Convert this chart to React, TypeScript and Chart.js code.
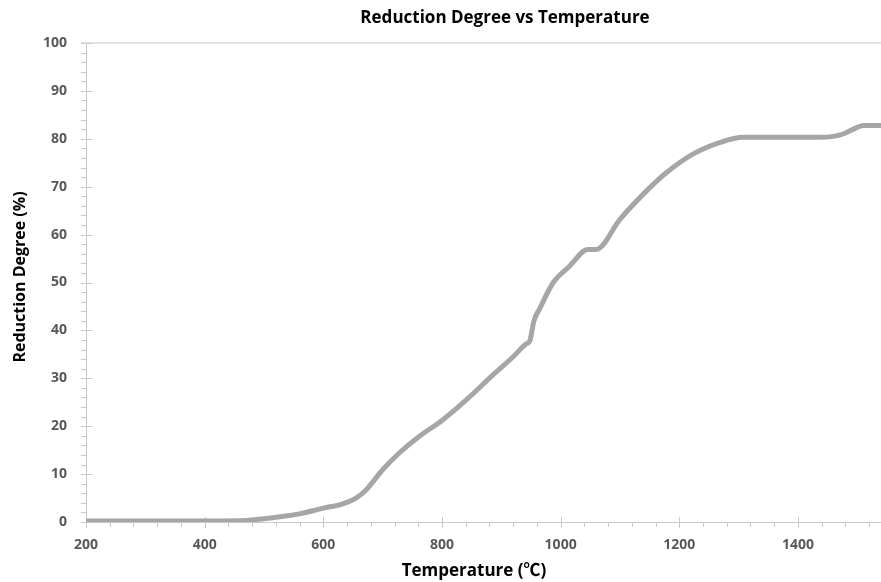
import React, { useEffect, useRef } from 'react';
import { Chart, registerables } from 'chart.js';

Chart.register(...registerables);

// ---- data ----
const TEMPERATURE = [
  200, 300, 400, 470, 500, 520, 560, 600, 630, 655, 672, 700, 728, 762, 800, 841,
  886, 920, 942, 948, 955, 965, 987, 1015, 1046, 1060, 1100, 1139, 1178, 1223,
  1268, 1308, 1437, 1460, 1476, 1500, 1510, 1540,
];
const REDUCTION = [
  0.2, 0.2, 0.2, 0.3, 0.7, 1.0, 1.7, 2.9, 3.7, 5.0, 6.7, 10.9, 14.4, 17.9, 21.2, 25.5,
  30.7, 34.5, 37.2, 37.8, 42.0, 44.6, 49.9, 53.4, 56.9, 56.9, 63.2, 68.4, 72.9, 76.8,
  79.2, 80.3, 80.3, 80.5, 81.0, 82.4, 82.8, 82.8,
];
const X_TICKS = [200, 400, 600, 800, 1000, 1200, 1400];
const Y_TICKS = [0, 10, 20, 30, 40, 50, 60, 70, 80, 90, 100];
const X_RANGE = [200, 1540];
const Y_RANGE = [0, 100];
const X_MINOR_STEP = 40;
const Y_MINOR_STEP = 2;

const TITLE = 'Reduction Degree vs Temperature';
const X_TITLE = 'Temperature (℃)';
const Y_TITLE = 'Reduction Degree (%)';

const FONT = "'Open Sans', 'Noto Sans CJK SC', 'DejaVu Sans', sans-serif";
const AXIS_COLOR = '#c9c9c9';

const decorations = {
  id: 'decorations',
  beforeDatasetsDraw(chart: any) {
    const { ctx, chartArea, scales } = chart;
    const xs = scales.x;
    const ys = scales.y;
    const y0 = chartArea.bottom;
    const x0 = chartArea.left;
    ctx.save();
    // top frame line
    ctx.strokeStyle = '#d9d9d9';
    ctx.lineWidth = 1.5;
    ctx.beginPath();
    ctx.moveTo(x0 - 5, chartArea.top);
    ctx.lineTo(chartArea.right, chartArea.top);
    ctx.stroke();
    ctx.strokeStyle = AXIS_COLOR;
    ctx.lineWidth = 1;
    // x ticks
    for (let v = X_RANGE[0]; v <= X_RANGE[1]; v += X_MINOR_STEP) {
      const px = Math.round(xs.getPixelForValue(v)) + 0.5;
      const major = X_TICKS.includes(v);
      ctx.beginPath();
      ctx.moveTo(px, major ? y0 - 5 : y0);
      ctx.lineTo(px, major ? y0 + 6 : y0 + 5);
      ctx.stroke();
    }
    // y ticks
    for (let v = Y_RANGE[0]; v <= Y_RANGE[1]; v += Y_MINOR_STEP) {
      const py = Math.round(ys.getPixelForValue(v)) + 0.5;
      const major = Y_TICKS.includes(v);
      ctx.beginPath();
      ctx.moveTo(x0 - 5, py);
      ctx.lineTo(major ? x0 + 6 : x0, py);
      ctx.stroke();
    }
    // titles
    ctx.fillStyle = '#000';
    ctx.textAlign = 'center';
    ctx.textBaseline = 'middle';
    ctx.font = `bold 17px ${FONT}`;
    ctx.fillText(TITLE, 505, 18);
    ctx.font = `bold 17px ${FONT}`;
    ctx.fillText(X_TITLE, 474, 571);
    ctx.font = `bold 16px ${FONT}`;
    ctx.translate(20, 277);
    ctx.rotate(-Math.PI / 2);
    ctx.fillText(Y_TITLE, 0, 0);
    ctx.restore();
  },
};

export default function App() {
  const ref = useRef<HTMLCanvasElement | null>(null);

  useEffect(() => {
    document.body.style.margin = '0';
    const canvas = ref.current;
    if (!canvas) return;
    const data = TEMPERATURE.map((t, i) => ({ x: t, y: REDUCTION[i] }));
    const chart = new Chart(canvas, {
      type: 'line',
      data: {
        datasets: [
          {
            data,
            borderColor: '#a6a6a6',
            borderWidth: 5,
            pointRadius: 0,
            cubicInterpolationMode: 'monotone',
            fill: false,
          },
        ],
      },
      options: {
        animation: false,
        responsive: false,
        devicePixelRatio: 1,
        layout: { padding: { top: 43, left: 0, right: 0, bottom: 0 } },
        plugins: {
          legend: { display: false },
          tooltip: { enabled: false },
          title: { display: false },
        },
        scales: {
          x: {
            type: 'linear',
            min: X_RANGE[0],
            max: X_RANGE[1],
            afterBuildTicks: (scale: any) => {
              scale.ticks = X_TICKS.map((v) => ({ value: v }));
            },
            afterFit: (scale: any) => {
              scale.height = 60;
            },
            grid: { display: false, drawTicks: false },
            border: { display: true, color: AXIS_COLOR, width: 1 },
            ticks: {
              color: '#595959',
              font: { family: FONT, size: 14, weight: 'bold' },
              padding: 15,
              maxRotation: 0,
              callback: (v: any) => String(v),
            },
          },
          y: {
            type: 'linear',
            min: Y_RANGE[0],
            max: Y_RANGE[1],
            afterBuildTicks: (scale: any) => {
              scale.ticks = Y_TICKS.map((v) => ({ value: v }));
            },
            afterFit: (scale: any) => {
              scale.width = 86;
            },
            grid: { display: false, drawTicks: false },
            border: { display: true, color: AXIS_COLOR, width: 1 },
            ticks: {
              color: '#595959',
              font: { family: FONT, size: 14, weight: 'bold' },
              padding: 19,
              callback: (v: any) => String(v),
            },
          },
        },
      },
      plugins: [decorations],
    } as any);
    return () => chart.destroy();
  }, []);

  return <canvas ref={ref} width={881} height={582} style={{ display: 'block' }} />;
}
